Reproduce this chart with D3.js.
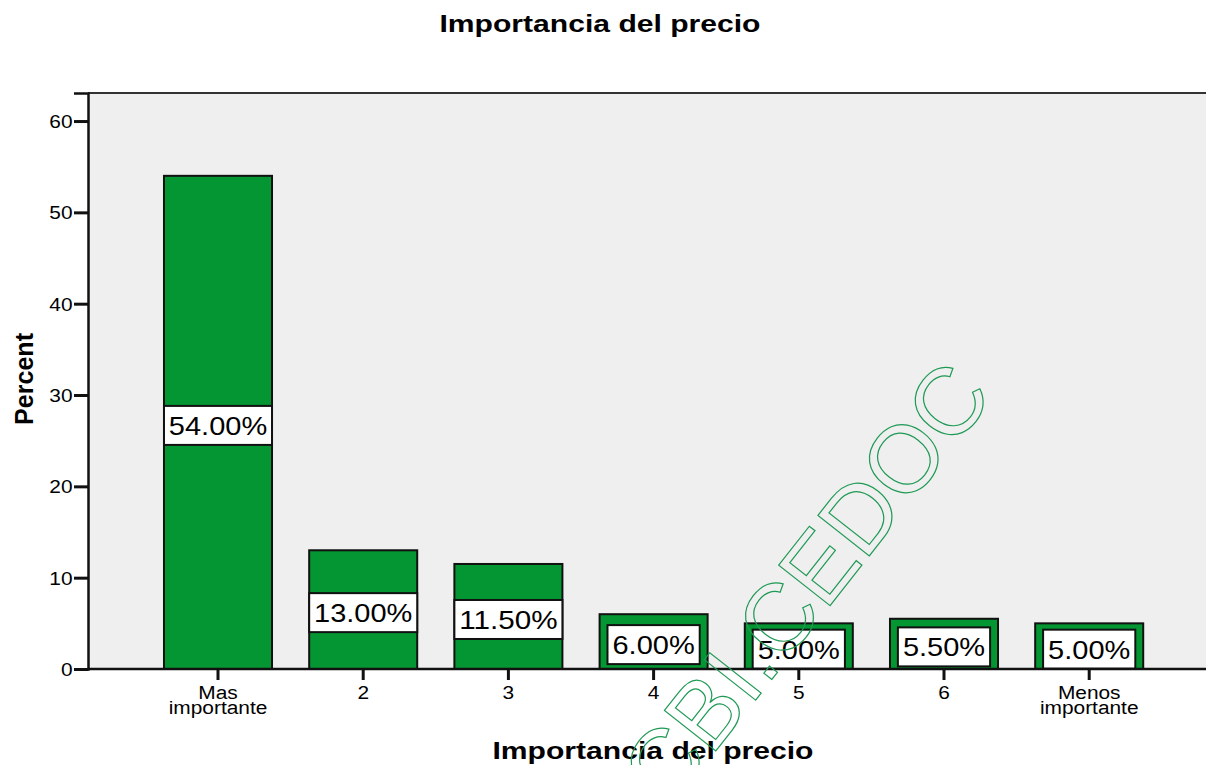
<!DOCTYPE html>
<html>
<head>
<meta charset="utf-8">
<script src="https://cdn.jsdelivr.net/npm/d3@7"></script>
<style>
  body { margin: 0; background: #fff; }
  text { font-family: Arial, "Liberation Sans", sans-serif; }
</style>
</head>
<body>
<div id="chart"></div>
<script>
// data
const categories = ["Mas importante", "2", "3", "4", "5", "6", "Menos importante"];
const percents = [54.0, 13.0, 11.5, 6.0, 5.0, 5.5, 5.0];
const yTicks = [0, 10, 20, 30, 40, 50, 60];
const chartTitle = "Importancia del precio";
const xTitle = "Importancia del precio";
const yTitle = "Percent";
const watermark = "CBI.CEDOC";

const width = 1206;
const height = 765;
const plot = { left: 88, right: 1206, top: 93, bottom: 669 };
const green = "#049632";
const stretch = 1.16; // the source font is drawn a bit wider than Arial

// rough Arial advance widths for the value labels
const emWidth = (s) =>
  Array.from(s).reduce(
    (acc, c) => acc + (c == "." ? 0.278 : c == "%" ? 0.889 : 0.556),
    0
  );

const svg = d3
  .select("#chart")
  .append("svg")
  .attr("width", width)
  .attr("height", height);

const x = d3
  .scaleBand()
  .domain(categories)
  .range([145.4, 1161.8])
  .paddingInner(0.256)
  .paddingOuter(0.128);

const y = d3
  .scaleLinear()
  .domain([0, 63.07])
  .range([plot.bottom, plot.top]);

// plot background and frame
svg
  .append("rect")
  .attr("x", plot.left)
  .attr("y", plot.top)
  .attr("width", plot.right - plot.left)
  .attr("height", plot.bottom - plot.top)
  .attr("fill", "#efefef");

svg
  .append("line")
  .attr("x1", plot.left)
  .attr("x2", plot.right)
  .attr("y1", plot.top)
  .attr("y2", plot.top)
  .attr("stroke", "#333")
  .attr("stroke-width", 2);

// bars
const bars = svg.append("g").attr("id", "bars");
bars
  .selectAll("rect")
  .data(percents)
  .join("rect")
  .attr("x", (d, i) => x(categories[i]))
  .attr("y", (d) => y(d))
  .attr("width", x.bandwidth())
  .attr("height", (d) => y(0) - y(d))
  .attr("fill", green)
  .attr("stroke", "#111")
  .attr("stroke-width", 2);

// value labels
const labels = svg.append("g").attr("id", "value-labels");
labels
  .selectAll("g")
  .data(percents)
  .join("g")
  .each(function (d, i) {
    const g = d3.select(this);
    const label = d.toFixed(2) + "%";
    const tw = emWidth(label) * 29;
    const cx = x(categories[i]) + x.bandwidth() / 2;
    const cy = (y(d) + y(0)) / 2 + 3;
    const bw = Math.min(x.bandwidth(), tw + 10);
    g.append("rect")
      .attr("x", cx - bw / 2)
      .attr("y", cy - 19.5)
      .attr("width", bw)
      .attr("height", 39)
      .attr("fill", "#fff")
      .attr("stroke", "#111")
      .attr("stroke-width", 2);
    g.append("text")
      .attr("x", cx)
      .attr("y", cy + 9.5)
      .attr("text-anchor", "middle")
      .attr("font-size", 26.5)
      .attr("textLength", tw)
      .attr("lengthAdjust", "spacingAndGlyphs")
      .attr("fill", "#000")
      .text(label);
  });

// y axis
const yAxis = svg
  .append("g")
  .attr("transform", `translate(${plot.left},0)`)
  .call(d3.axisLeft(y).tickValues(yTicks).tickSize(14).tickPadding(2).tickFormat(""));
yAxis.select(".domain").attr("stroke", "#111").attr("stroke-width", 2.5);
yAxis.selectAll(".tick line").attr("stroke", "#111").attr("stroke-width", 3);
yAxis
  .selectAll(".tick")
  .append("text")
  .attr("transform", `translate(-15.5,6.5) scale(${stretch},1)`)
  .attr("text-anchor", "end")
  .attr("font-size", 18)
  .attr("font-family", "Arial, Liberation Sans, sans-serif")
  .attr("fill", "#000")
  .text((d) => d);

// x axis
const xAxis = svg
  .append("g")
  .attr("transform", `translate(0,${plot.bottom})`)
  .call(d3.axisBottom(x).tickSize(11).tickSizeOuter(0).tickFormat(""));
xAxis
  .select(".domain")
  .attr("d", `M${plot.left},0H${plot.right}`)
  .attr("stroke", "#111")
  .attr("stroke-width", 2.5);
xAxis.selectAll(".tick line").attr("stroke", "#111").attr("stroke-width", 3);

xAxis.selectAll(".tick").each(function (d) {
  const parts = d.split(" ");
  const t = d3
    .select(this)
    .append("text")
    .attr("transform", `scale(${stretch},1)`)
    .attr("text-anchor", "middle")
    .attr("font-size", 18)
    .attr("font-family", "Arial, Liberation Sans, sans-serif")
    .attr("fill", "#000");
  parts.forEach((p, j) => {
    t.append("tspan").attr("x", 0).attr("y", 30 + j * 15).text(p);
  });
});

// titles
svg
  .append("text")
  .attr("x", 600)
  .attr("y", 32)
  .attr("text-anchor", "middle")
  .attr("font-size", 23)
  .attr("font-weight", "bold")
  .attr("textLength", 321)
  .attr("lengthAdjust", "spacingAndGlyphs")
  .text(chartTitle);

svg
  .append("text")
  .attr("x", 653)
  .attr("y", 759)
  .attr("text-anchor", "middle")
  .attr("font-size", 23)
  .attr("font-weight", "bold")
  .attr("textLength", 321)
  .attr("lengthAdjust", "spacingAndGlyphs")
  .text(xTitle);

svg
  .append("text")
  .attr("transform", "translate(33,379) rotate(-90)")
  .attr("text-anchor", "middle")
  .attr("font-size", 25)
  .attr("font-weight", "bold")
  .attr("textLength", 92)
  .attr("lengthAdjust", "spacingAndGlyphs")
  .text(yTitle);

// watermark
svg
  .append("text")
  .attr("transform", "translate(995,396) rotate(-51.8)")
  .attr("text-anchor", "end")
  .attr("font-size", 95)
  .attr("fill", "none")
  .attr("stroke", "#1f9a55")
  .attr("stroke-width", 1.2)
  .text(watermark);
</script>
</body>
</html>
